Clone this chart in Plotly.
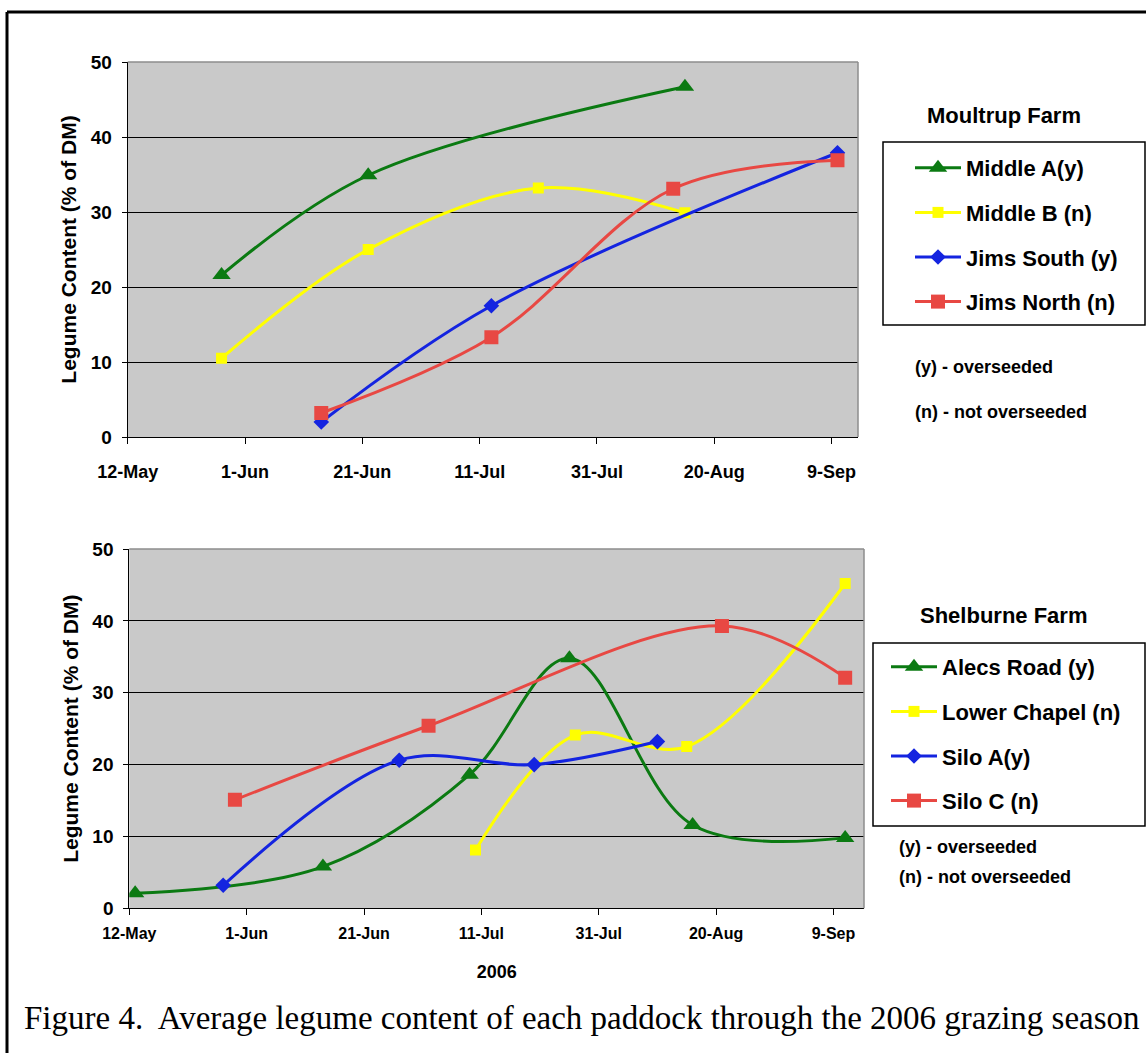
import plotly.graph_objects as go

# ---------------- data ----------------
tick_dates = ["2006-05-12", "2006-06-01", "2006-06-21", "2006-07-11",
              "2006-07-31", "2006-08-20", "2006-09-09"]
tick_labels = ["12-May", "1-Jun", "21-Jun", "11-Jul", "31-Jul", "20-Aug", "9-Sep"]
y_ticks = [0, 10, 20, 30, 40, 50]

# Moultrup Farm
top_names = ["Middle A(y)", "Middle B (n)", "Jims South (y)", "Jims North (n)"]
middle_a_dates = ["2006-05-28", "2006-06-22", "2006-08-15"]
middle_a = [21.6, 34.9, 46.7]
middle_b_dates = ["2006-05-28", "2006-06-22", "2006-07-21", "2006-08-15"]
middle_b = [10.5, 25.0, 33.2, 29.9]
jims_south_dates = ["2006-06-14", "2006-07-13", "2006-09-10"]
jims_south = [2.0, 17.5, 37.9]
jims_north_dates = ["2006-06-14", "2006-07-13", "2006-08-13", "2006-09-10"]
jims_north = [3.2, 13.3, 33.1, 36.9]

# Shelburne Farm
bottom_names = ["Alecs Road (y)", "Lower Chapel (n)", "Silo A(y)", "Silo C (n)"]
alecs_dates = ["2006-05-13", "2006-06-14", "2006-07-09", "2006-07-26", "2006-08-16", "2006-09-11"]
alecs = [2.1, 5.8, 18.6, 34.8, 11.6, 9.8]
lower_dates = ["2006-07-10", "2006-07-27", "2006-08-15", "2006-09-11"]
lower = [8.1, 24.1, 22.5, 45.2]
silo_a_dates = ["2006-05-28", "2006-06-27", "2006-07-20", "2006-08-10"]
silo_a = [3.2, 20.6, 20.0, 23.2]
silo_c_dates = ["2006-05-30", "2006-07-02", "2006-08-21", "2006-09-11"]
silo_c = [15.1, 25.4, 39.3, 32.1]

# ---------------- style ----------------
W, H = 1146, 1053
GREEN, YELLOW, BLUE, RED = "#0B7A12", "#FFFF00", "#1424E0", "#E84843"
styles = [
    (GREEN, "triangle-up", 16),
    (YELLOW, "square", 11),
    (BLUE, "diamond", 12),
    (RED, "square", 14),
]
SANS = "Liberation Sans"


def px(x):
    return x / W


def py(y):
    return 1 - y / H


fig = go.Figure()

top_series = [(middle_a_dates, middle_a), (middle_b_dates, middle_b),
              (jims_south_dates, jims_south), (jims_north_dates, jims_north)]
bottom_series = [(alecs_dates, alecs), (lower_dates, lower),
                 (silo_a_dates, silo_a), (silo_c_dates, silo_c)]

for i, ((xs, ys), name) in enumerate(zip(top_series, top_names)):
    c, sym, sz = styles[i]
    fig.add_trace(go.Scatter(
        x=xs, y=ys, name=name, mode="lines+markers",
        line=dict(color=c, width=3, shape="spline", smoothing=1.0),
        marker=dict(color=c, symbol=sym, size=sz, line=dict(width=0)),
        xaxis="x", yaxis="y", legend="legend", legendgroup="t%d" % i))

for i, ((xs, ys), name) in enumerate(zip(bottom_series, bottom_names)):
    c, sym, sz = styles[i]
    fig.add_trace(go.Scatter(
        x=xs, y=ys, name=name, mode="lines+markers",
        line=dict(color=c, width=3, shape="spline", smoothing=1.0),
        marker=dict(color=c, symbol=sym, size=sz, line=dict(width=0)),
        xaxis="x2", yaxis="y2", legend="legend2", legendgroup="b%d" % i))

# plot area positions (pixels)
top_box = (127.7, 858, 62, 437)
bot_box = (129.3, 864, 549, 908.3)


def xaxis_cfg(box, rng_end, tick_size, standoff, title=None):
    d = dict(
        domain=[px(box[0]), px(box[1])], type="date", automargin=False,
        range=["2006-05-12", rng_end],
        tickmode="array", tickvals=tick_dates, ticktext=tick_labels,
        ticks="outside", ticklen=6, tickcolor="black", tickwidth=1,
        ticklabelstandoff=standoff,
        showline=True, linecolor="black", linewidth=1,
        showgrid=False, zeroline=False,
        tickfont=dict(family=SANS, size=tick_size, color="black", weight="bold"),
    )
    if title:
        d["title"] = dict(text=title, standoff=24,
                          font=dict(family=SANS, size=18, color="black", weight="bold"))
    return d


def yaxis_cfg(box):
    return dict(
        domain=[py(box[3]), py(box[2])], range=[0, 50], automargin=False,
        tickmode="array", tickvals=y_ticks,
        ticks="outside", ticklen=5, tickcolor="black", tickwidth=1,
        ticklabelstandoff=6,
        showline=True, linecolor="black", linewidth=1,
        showgrid=True, gridcolor="black", gridwidth=1, zeroline=False,
        tickfont=dict(family=SANS, size=19, color="black", weight="bold"),
        title=dict(text="Legume Content (% of DM)", standoff=8,
                   font=dict(family=SANS, size=21, color="black", weight="bold")),
    )


legend_common = dict(
    xanchor="left", yanchor="top", bgcolor="rgba(0,0,0,0)", borderwidth=0,
    itemwidth=46, tracegroupgap=13, itemclick=False, itemdoubleclick=False,
    font=dict(family=SANS, size=22, color="black", weight="bold"),
)

shapes = []
for xr, yr in (("x domain", "y domain"), ("x2 domain", "y2 domain")):
    shapes.append(dict(type="line", xref=xr, yref=yr, x0=0, x1=1, y0=1, y1=1,
                       line=dict(color="#8C8C8C", width=1.5), layer="above"))
    shapes.append(dict(type="line", xref=xr, yref=yr, x0=1, x1=1, y0=0, y1=1,
                       line=dict(color="#8C8C8C", width=1.5), layer="above"))
# legend boxes
shapes.append(dict(type="rect", xref="paper", yref="paper",
                   x0=px(883), x1=px(1145), y0=py(325), y1=py(142),
                   line=dict(color="black", width=1.5)))
shapes.append(dict(type="rect", xref="paper", yref="paper",
                   x0=px(873), x1=px(1145), y0=py(826), y1=py(643),
                   line=dict(color="black", width=1.5)))
# outer frame (left and top edges)
shapes.append(dict(type="line", xref="paper", yref="paper",
                   x0=px(7), x1=px(7), y0=py(12), y1=py(1060),
                   line=dict(color="black", width=3)))
shapes.append(dict(type="line", xref="paper", yref="paper",
                   x0=px(7), x1=px(1160), y0=py(12), y1=py(12),
                   line=dict(color="black", width=3)))


def note(text, x, y, size=18, xanchor="left"):
    return dict(text=text, x=px(x), y=py(y), xref="paper", yref="paper",
                xanchor=xanchor, yanchor="middle", showarrow=False,
                font=dict(family=SANS, size=size, color="black", weight="bold"))


annotations = [
    note("Moultrup Farm", 1004, 115, size=22, xanchor="center"),
    note("Shelburne Farm", 1003, 615, size=22, xanchor="center"),
    note("(y) - overseeded", 913, 367),
    note("(n) - not overseeded", 913, 412),
    note("(y) - overseeded", 897, 847),
    note("(n) - not overseeded", 897, 877),
    dict(text="Figure 4.  Average legume content of each paddock through the 2006 grazing season",
         x=px(22), y=py(1018), xref="paper", yref="paper", xanchor="left", yanchor="middle",
         showarrow=False,
         font=dict(family="Liberation Serif", size=33, color="black")),
]

fig.update_layout(
    width=W, height=H, autosize=False,
    margin=dict(l=0, r=0, t=0, b=0, pad=0, autoexpand=False),
    paper_bgcolor="white", plot_bgcolor="#C9C9C9",
    xaxis=dict(xaxis_cfg(top_box, "2006-09-13 12:00", 18, 12), anchor="y"),
    yaxis=dict(yaxis_cfg(top_box), anchor="x"),
    xaxis2=dict(xaxis_cfg(bot_box, "2006-09-14 05:00", 16, 4, title="2006"), anchor="y2"),
    yaxis2=dict(yaxis_cfg(bot_box), anchor="x2"),
    legend=dict(legend_common, x=px(910), y=py(147)),
    legend2=dict(legend_common, x=px(886), y=py(646)),
    shapes=shapes,
    annotations=annotations,
    showlegend=True,
    hovermode=False,
)

fig.write_html("out.html")
